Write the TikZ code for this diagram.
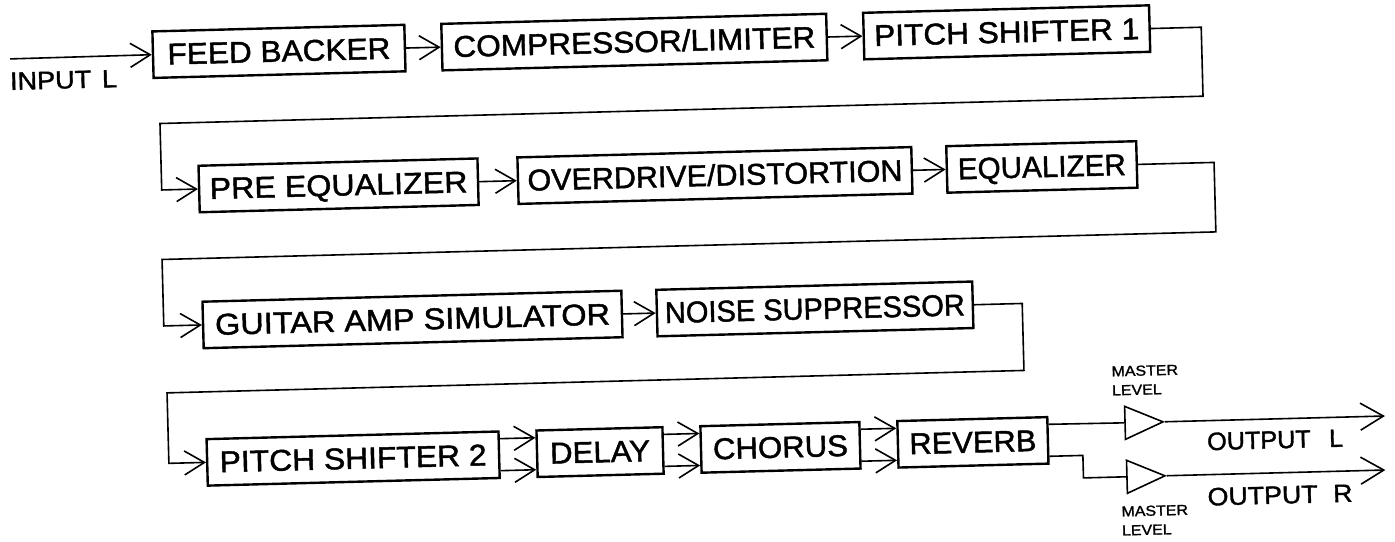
\documentclass[tikz,border=0pt]{standalone}
\usepackage{fontspec}
\usepackage{graphicx}
\setmainfont{Liberation Sans}[FakeStretch=1.1,FakeBold=1.5]
\usetikzlibrary{arrows.meta,shapes.geometric}
\newcommand{\bt}[2]{\resizebox{#1pt}{\height}{#2}}
\begin{document}
\begin{tikzpicture}[x=1pt,y=-1pt,
  box/.style={draw, line width=2.4pt, minimum height=46.5pt, inner sep=0pt,
    text height=20.5pt, text depth=0pt, font=\fontsize{30}{32}\selectfont},
  conn/.style={line width=1.6pt},
  arr/.style={conn, -{Straight Barb[length=20pt,width=24pt]}},
  oarr/.style={conn, -{Straight Barb[length=23pt,width=27pt]}},
  lab/.style={inner sep=0pt, text height=17pt, text depth=0pt, font=\fontsize{25}{27}\selectfont},
  small/.style={inner sep=0pt, align=left, font=\fontsize{14.5}{19}\selectfont},
  amp/.style={draw, conn, isosceles triangle, isosceles triangle stretches,
    minimum width=33pt, minimum height=38pt, inner sep=0pt}]
\useasboundingbox (0,0) rectangle (1395,541);
\fill[white] (0,0) rectangle (1395,541);
\begin{scope}[rotate around={1.5:(697,270)}, transform shape]
% row 1
\node[box, minimum width=252pt] (fb) at (284.8,40.5) {\bt{223}{FEED BACKER}};
\node[box, minimum width=385pt] (comp) at (640.3,40.5) {\bt{362}{COMPRESSOR/LIMITER}};
\node[box, minimum width=286pt] (ps1) at (1012.8,40.5) {\bt{265}{PITCH SHIFTER 1}};
% row 2
\node[box, minimum width=279pt] (preeq) at (340.9,176) {\bt{258}{PRE EQUALIZER}};
\node[box, minimum width=394pt] (od) at (717.4,176) {\bt{375}{OVERDRIVE/DISTORTION}};
\node[box, minimum width=190pt] (eq) at (1044.4,176) {\bt{168}{EQUALIZER}};
% row 3
\node[box, minimum width=419pt] (gas) at (411.3,312) {\bt{395}{GUITAR AMP SIMULATOR}};
\node[box, minimum width=316pt] (ns) at (813.8,312) {\bt{300}{NOISE SUPPRESSOR}};
% row 4
\node[box, minimum width=292pt] (ps2) at (348.3,449.5) {\bt{267}{PITCH SHIFTER 2}};
\node[box, minimum width=126pt] (delay) at (595.3,449.5) {\bt{100}{DELAY}};
\node[box, minimum width=159pt] (chorus) at (775.8,449.5) {\bt{135}{CHORUS}};
\node[box, minimum width=150pt] (rev) at (968.3,449.5) {\bt{127}{REVERB}};
% input
\coordinate (in) at (15.8,41);
\node[lab, anchor=west] (inl) at (15,63.5) {\resizebox{107pt}{\height}{INPUT\hspace{11pt}L}};
\draw[arr] (in) -- (fb.west);
\draw[arr] (fb.east) -- (comp.west);
\draw[arr] (comp.east) -- (ps1.west);
\draw[arr] (preeq.east) -- (od.west);
\draw[arr] (od.east) -- (eq.west);
\draw[arr] (gas.east) -- (ns.west);
% row links
\coordinate (r1a) at (1207.5,109.5);
\coordinate (r1b) at (164,109.5);
\draw[arr] (ps1.east) -| (r1a) -- (r1b) |- (preeq.west);
\coordinate (r2a) at (1216.8,245.5);
\coordinate (r2b) at (162.5,245.5);
\draw[arr] (eq.east) -| (r2a) -- (r2b) |- (gas.west);
\coordinate (r3a) at (1021.3,379);
\coordinate (r3b) at (164,379);
\draw[arr] (ns.east) -| (r3a) -- (r3b) |- (ps2.west);
% double lines row 4
\draw[arr] ([yshift=16pt]ps2.east) -- ([yshift=16pt]delay.west);
\draw[arr] ([yshift=-16pt]ps2.east) -- ([yshift=-16pt]delay.west);
\draw[arr] ([yshift=16pt]delay.east) -- ([yshift=16pt]chorus.west);
\draw[arr] ([yshift=-16pt]delay.east) -- ([yshift=-16pt]chorus.west);
\draw[arr] ([yshift=16pt]chorus.east) -- ([yshift=16pt]rev.west);
\draw[arr] ([yshift=-16pt]chorus.east) -- ([yshift=-16pt]rev.west);
% master level
\node[amp, anchor=apex] (tri1) at (1161,434) {};
\node[amp, anchor=apex] (tri2) at (1161.5,488) {};
\draw[conn] ([yshift=16pt]rev.east) -- (tri1.west);
\coordinate (bend) at (1078,476);
\draw[conn] ([yshift=-16pt]rev.east) -| (bend) |- (tri2.west);
\coordinate (oL) at (1381,434);
\coordinate (oR) at (1380,488);
\draw[oarr] (tri1.apex) -- (oL);
\draw[oarr] (tri2.apex) -- (oR);
\node[lab] (outl) at (1270.5,455) {\resizebox{136pt}{\height}{OUTPUT\hspace{20pt}L}};
\node[lab] (outr) at (1274,510.3) {\resizebox{145pt}{\height}{OUTPUT\hspace{16pt}R}};
\node[small] (ml1) at (1142,391.7) {MASTER\\LEVEL};
\node[small] (ml2) at (1148.3,532) {MASTER\\LEVEL};
\end{scope}
\end{tikzpicture}
\end{document}
